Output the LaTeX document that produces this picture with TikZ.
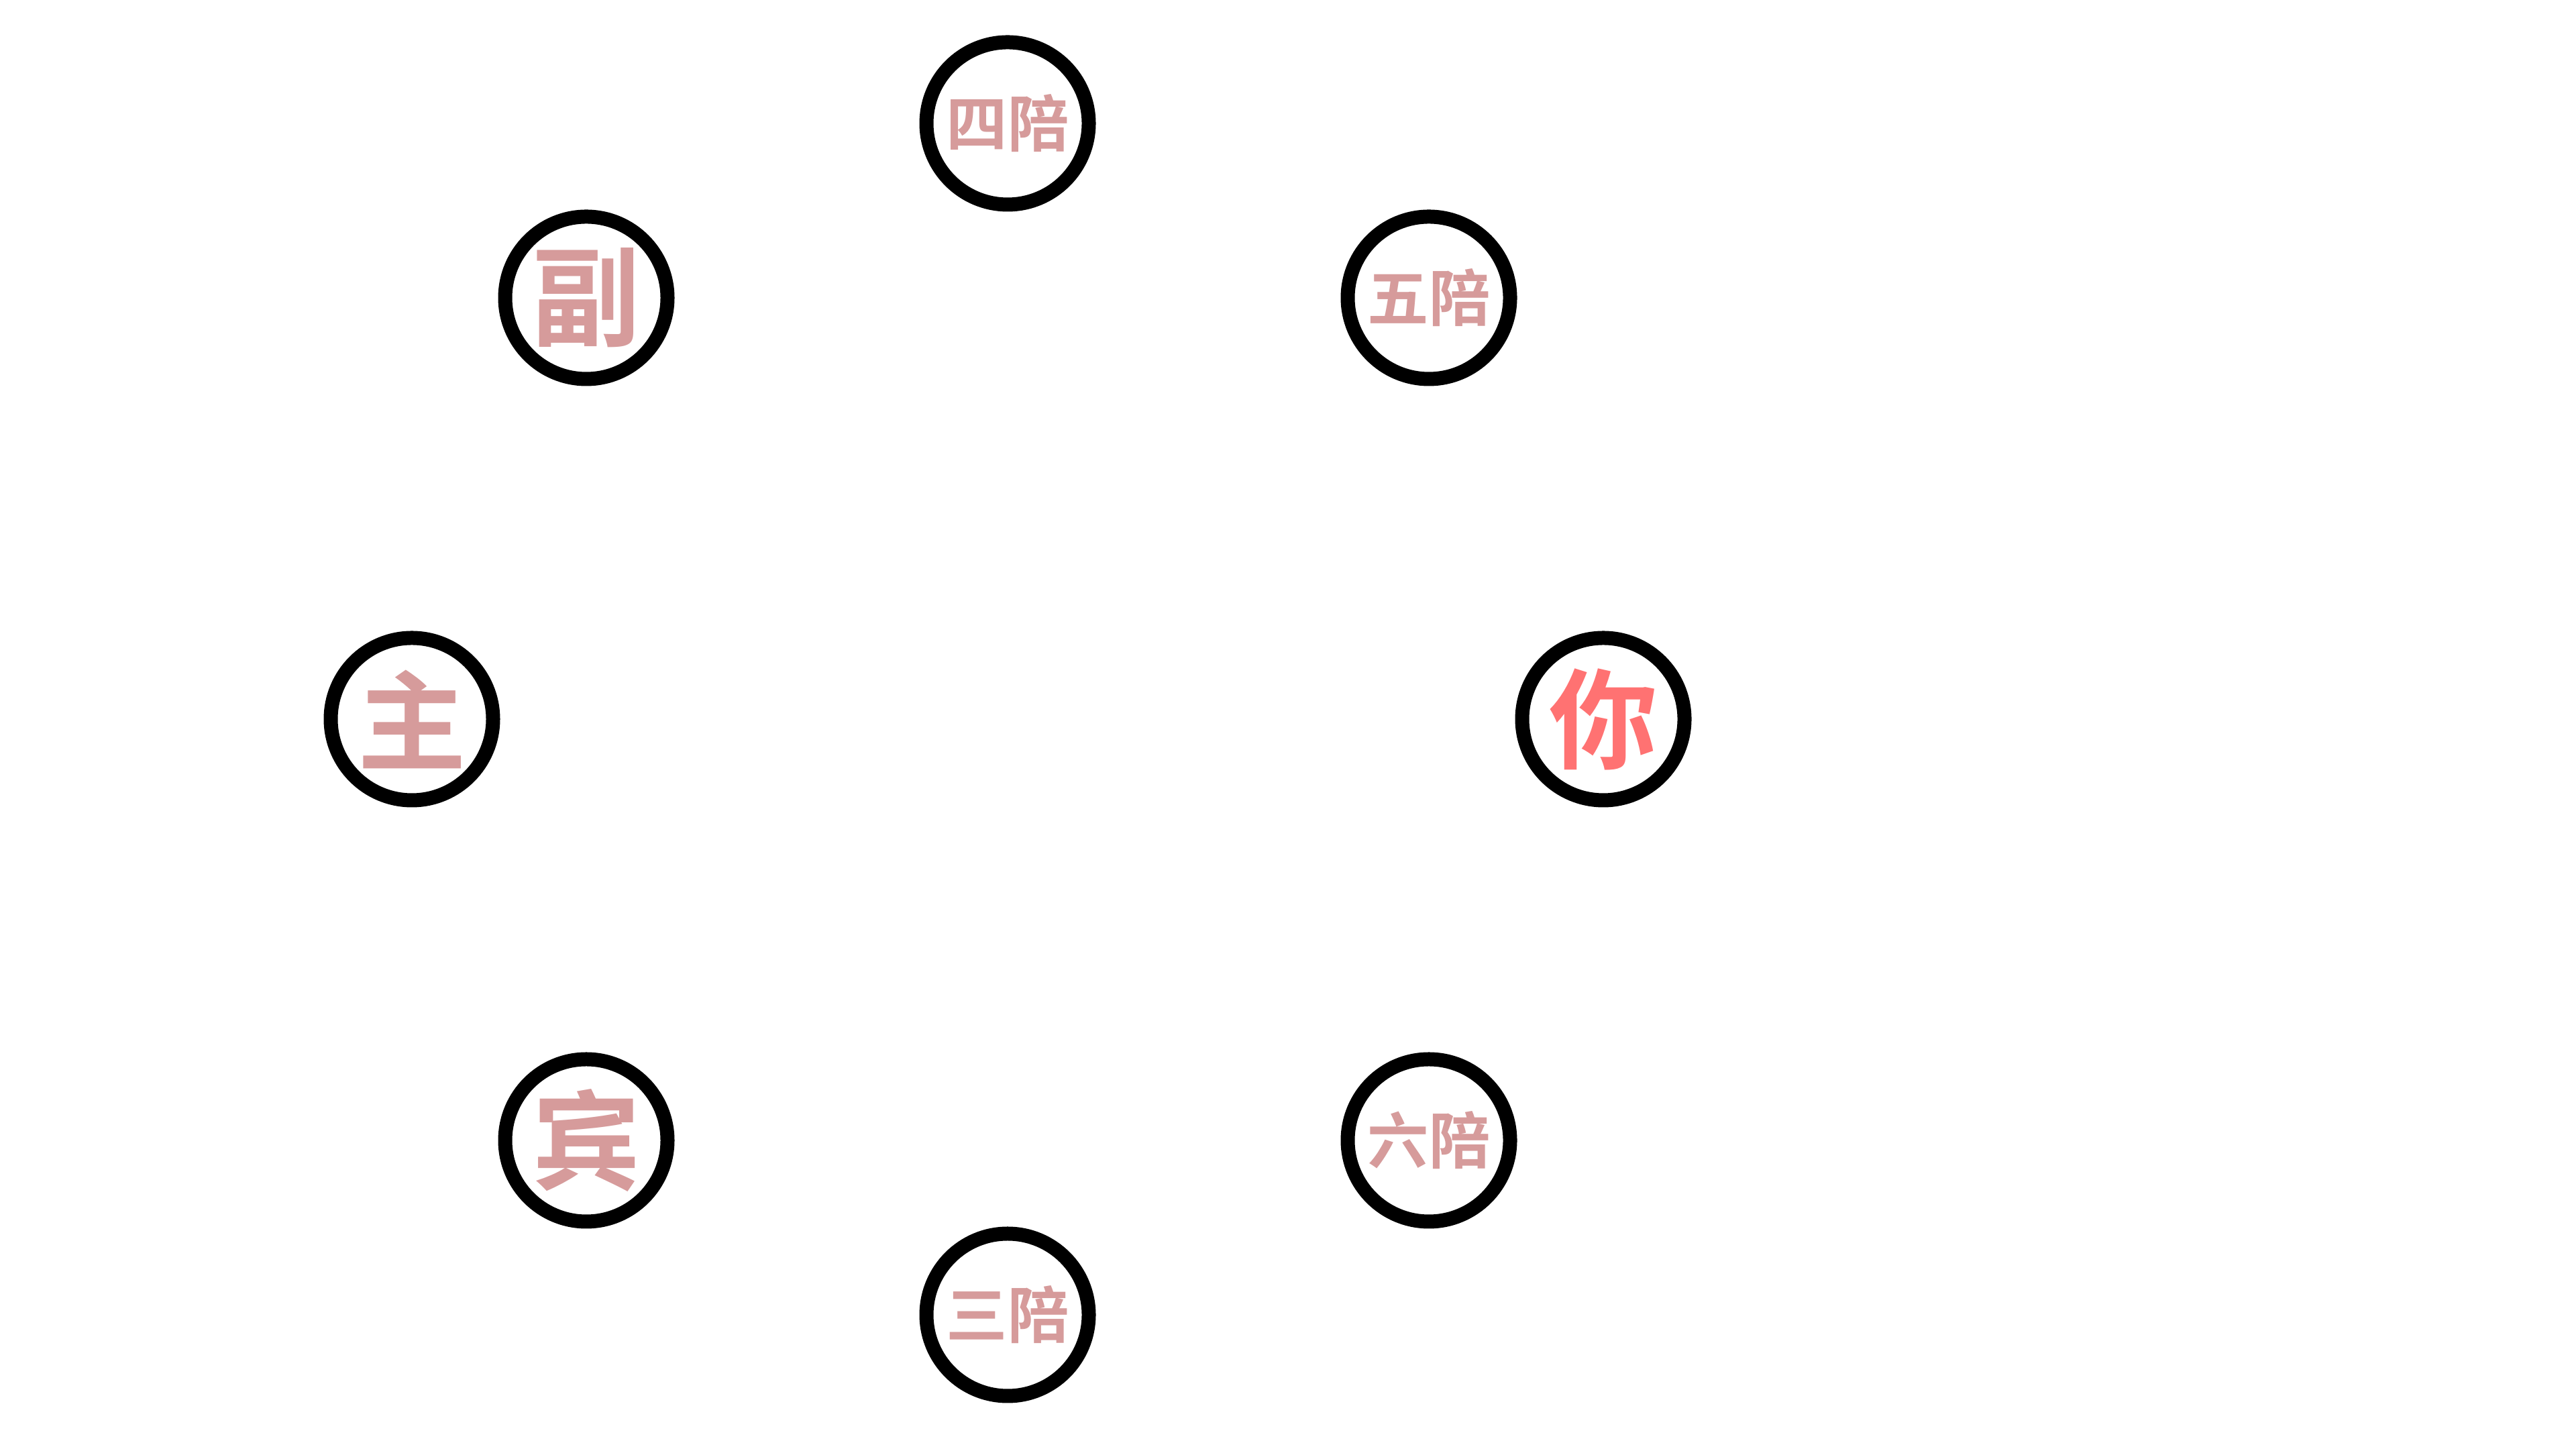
\documentclass[tikz,border=0pt]{standalone}
\usepackage{fontspec}
\newfontfamily\cjk{Noto Sans CJK SC}[BoldFont={* Bold}]
\definecolor{guest}{RGB}{214,155,155}
\definecolor{you}{RGB}{255,114,114}
\tikzset{
  seat/.style={circle,draw=black,line width=0.21cm,minimum size=2.42cm,
    inner sep=0pt,outer sep=0pt,fill=white,text=guest},
  big/.style={font=\cjk\bfseries\fontsize{46}{46}\selectfont},
  small/.style={font=\cjk\bfseries\fontsize{26}{26}\selectfont}
}
\begin{document}
\begin{tikzpicture}
 			\useasboundingbox (0,0) rectangle (38.4,21.6);
 			\node[seat,big,text=you] (ni) at (23.90,10.88) {你};
 			\node[seat,small] (wu) at (21.30,17.16) {五陪};
 			\node[seat,small] (si) at (15.02,19.76) {四陪};
 			\node[seat,big] (fu) at (8.74,17.16) {副};
 			\node[seat,big] (zhu) at (6.14,10.88) {主};
 			\node[seat,big] (bin) at (8.74,4.60) {宾};
 			\node[seat,small] (san) at (15.02,2.00) {三陪};
 			\node[seat,small] (liu) at (21.30,4.60) {六陪};
 		\end{tikzpicture}
\end{document}
